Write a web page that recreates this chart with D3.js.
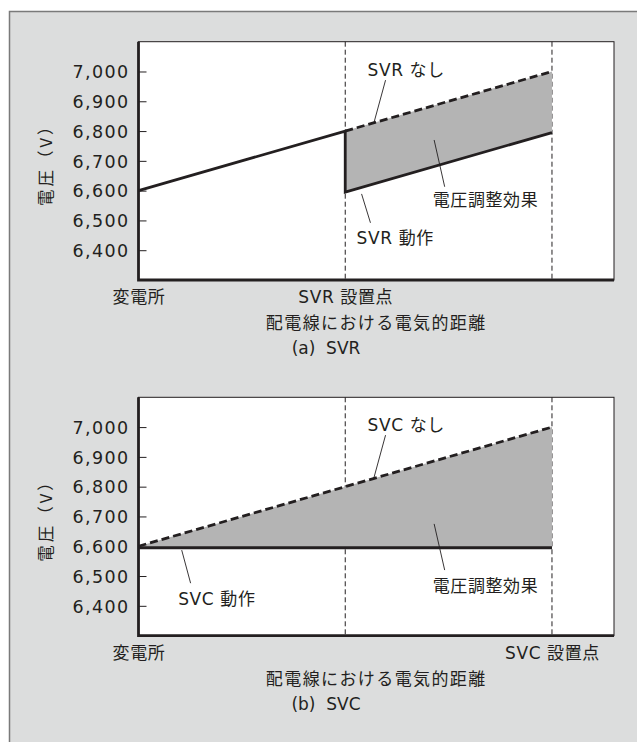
<!DOCTYPE html>
<html>
<head>
<meta charset="utf-8">
<script src="https://cdn.jsdelivr.net/npm/d3@7"></script>
<style>
  body { margin: 0; background: #fff; }
  text { fill: #231f20; font-family: "DejaVu Sans", "Noto Sans CJK JP", sans-serif; white-space: pre; }
</style>
</head>
<body>
<div id="chart"></div>
<script>
// data
var distance = [0, 1, 2];
var yTicks = [6400, 6500, 6600, 6700, 6800, 6900, 7000];
var xLabelsA = ["変電所", "SVR 設置点", ""];
var xLabelsB = ["変電所", "", "SVC 設置点"];

// (a) SVR
var svrOnX = [0, 1, 1, 2];
var svrOnV = [6600, 6800, 6595, 6795];
var svrOffX = [1, 2];
var svrOffV = [6800, 7000];
var svrLowV = [6595, 6795];

// (b) SVC
var svcX = [0, 2];
var svcOffV = [6600, 7000];
var svcOnV = [6595, 6595];

var W = 637, H = 742;
var svg = d3.select("#chart").append("svg").attr("width", W).attr("height", H);

// panel background
svg.append("rect").attr("x", 9).attr("y", 11).attr("width", W).attr("height", H).attr("fill", "#dcdddd");
svg.append("path").attr("d", "M9.5," + H + "V11.5H" + W).attr("fill", "none").attr("stroke", "#7a7a7a").attr("stroke-width", 1.5);

var left = 138.5, pw = 475.5, ph = 238.3;

var x = d3.scaleLinear().domain([0, 2.3]).range([0, pw]);
var y = d3.scaleLinear().domain([6300, 7100]).range([ph, 0]);

function zip(xs, vs) { return xs.map(function (d, i) { return [d, vs[i]]; }); }

var line = d3.line().x(function (d) { return x(d[0]); }).y(function (d) { return y(d[1]); });

function drawChart(top, xLabels, title) {
    var g = svg.append("g").attr("transform", "translate(" + left + "," + top + ")");
    g.append("rect").attr("width", pw).attr("height", ph).attr("fill", "#fff").attr("stroke", "#231f20").attr("stroke-width", 1);

    // y axis
    var ya = g.append("g").call(d3.axisLeft(y).tickValues(yTicks).tickSize(-8).tickPadding(9).tickFormat(d3.format(",")));
    ya.select(".domain").remove();
    ya.selectAll("line").attr("stroke", "#231f20").attr("stroke-width", 1);
    ya.selectAll("text").attr("font-size", 17.5).attr("letter-spacing", 1.4).attr("fill", "#231f20").attr("dy", "0.36em");

    // x axis
    var xa = g.append("g").attr("transform", "translate(0," + ph + ")")
        .call(d3.axisBottom(x).tickValues(distance).tickSize(0).tickPadding(11).tickFormat(function (d, i) { return xLabels[i]; }));
    xa.select(".domain").remove();
    xa.selectAll("text").attr("font-size", 17).attr("letter-spacing", 0.6).attr("fill", "#231f20");

    // dashed guides
    [1, 2].forEach(function (d) {
        g.append("line").attr("x1", x(d)).attr("x2", x(d)).attr("y1", 0).attr("y2", ph)
            .attr("stroke", "#231f20").attr("stroke-width", 1).attr("stroke-dasharray", "5,3");
    });

    // thick left / bottom axes
    g.append("path").attr("d", "M0,0V" + ph + "H" + pw).attr("fill", "none").attr("stroke", "#231f20").attr("stroke-width", 2.8);

    g.append("text").attr("transform", "translate(-92," + (ph / 2) + ") rotate(-90)")
        .attr("text-anchor", "middle").attr("dy", "0.35em").attr("font-size", 16.5).attr("letter-spacing", 3)
        .attr("fill", "#231f20").style("font-family", "'Noto Sans CJK JP', sans-serif").text("電圧（V）");
    g.append("text").attr("x", pw / 2).attr("y", ph + 43).attr("dy", "0.35em").attr("text-anchor", "middle")
        .attr("font-size", 17).attr("letter-spacing", 1.4).text("配電線における電気的距離");
    g.append("text").attr("x", 326 - left).attr("y", ph + 68).attr("dy", "0.35em").attr("text-anchor", "middle")
        .attr("font-size", 17).text(title);
    return g;
}

function leader(g, x1, v1, x2, v2) {
    g.append("line").attr("x1", x(x1)).attr("y1", y(v1)).attr("x2", x(x2)).attr("y2", y(v2))
        .attr("stroke", "#231f20").attr("stroke-width", 0.9);
}
function note(g, xv, v, s) {
    g.append("text").attr("x", x(xv)).attr("y", y(v)).attr("dy", "0.35em").attr("font-size", 17)
        .attr("letter-spacing", 0.6).text(s);
}

// chart (a)
var ga = drawChart(41.7, xLabelsA, "(a)  SVR");
var areaA = d3.area().x(function (d) { return x(d[0]); }).y0(function (d) { return y(d[2]); }).y1(function (d) { return y(d[1]); });
ga.insert("path", "path").datum(svrOffX.map(function (d, i) { return [d, svrOffV[i], svrLowV[i]]; }))
    .attr("d", areaA).attr("fill", "#b4b4b4");
ga.append("path").datum(zip(svrOnX, svrOnV)).attr("d", line).attr("fill", "none").attr("stroke", "#231f20").attr("stroke-width", 2.8);
ga.append("path").datum(zip(svrOffX, svrOffV)).attr("d", line).attr("fill", "none").attr("stroke", "#231f20")
    .attr("stroke-width", 2.8).attr("stroke-dasharray", "8,4");
leader(ga, 1.195, 6971, 1.138, 6826);
note(ga, 1.108, 7005, "SVR なし");
leader(ga, 1.43, 6770, 1.481, 6613);
note(ga, 1.423, 6569, "電圧調整効果");
leader(ga, 1.079, 6589, 1.122, 6492);
note(ga, 1.055, 6442, "SVR 動作");

// chart (b)
var gb = drawChart(397.3, xLabelsB, "(b)  SVC");
gb.insert("path", "path").datum(svcX.map(function (d, i) { return [d, svcOffV[i], svcOnV[i]]; }))
    .attr("d", areaA).attr("fill", "#b4b4b4");
gb.append("path").datum(zip(svcX, svcOnV)).attr("d", line).attr("fill", "none").attr("stroke", "#231f20").attr("stroke-width", 2.8);
gb.append("path").datum(zip(svcX, svcOffV)).attr("d", line).attr("fill", "none").attr("stroke", "#231f20")
    .attr("stroke-width", 2.8).attr("stroke-dasharray", "8,4");
leader(gb, 1.195, 6973, 1.138, 6828);
note(gb, 1.108, 7007, "SVC なし");
leader(gb, 1.43, 6675, 1.481, 6520);
note(gb, 1.423, 6467, "電圧調整効果");
leader(gb, 0.209, 6587, 0.252, 6476);
note(gb, 0.192, 6423, "SVC 動作");
</script>
</body>
</html>
